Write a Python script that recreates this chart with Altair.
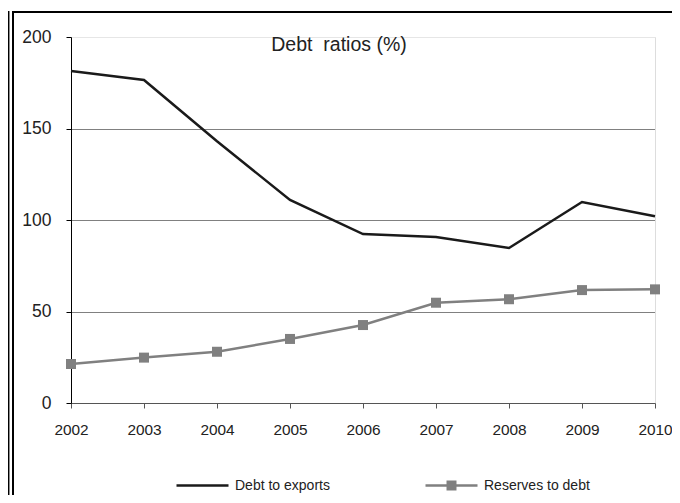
import altair as alt
import pandas as pd

years = [2002, 2003, 2004, 2005, 2006, 2007, 2008, 2009, 2010]
debt_to_exports = [181.4, 176.5, 143.0, 111.0, 92.3, 90.7, 84.7, 109.8, 102.0]
reserves_to_debt = [21.3, 24.8, 28.0, 35.0, 42.6, 54.8, 56.7, 61.7, 62.1]
y_ticks = [0, 50, 100, 150, 200]
chart_title = "Debt\u00a0 ratios (%)"
series_names = ["Debt to exports", "Reserves to debt"]

df_debt = pd.DataFrame({"year": years, "value": debt_to_exports, "series": series_names[0]})
df_res = pd.DataFrame({"year": years, "value": reserves_to_debt, "series": series_names[1]})

FONT = "Liberation Sans"
W, H = 584, 366

x_enc = alt.X(
    "year:Q",
    scale=alt.Scale(domain=[2002, 2010], nice=False, zero=False),
    axis=alt.Axis(
        values=years, format="d", title=None, grid=False,
        domainColor="#555555", tickColor="#555555", tickSize=5,
        labelFontSize=15.4, labelColor="#222222", labelFont=FONT,
        labelPadding=14, labelFlush=False,
    ),
)
y_enc = alt.Y(
    "value:Q",
    scale=alt.Scale(domain=[0, 200], nice=False),
    axis=alt.Axis(
        values=y_ticks, title=None, grid=True,
        gridColor={"expr": "datum.value == 200 ? '#eeeeee' : (datum.value == 0 ? 'transparent' : '#000000')"},
        gridDash=[1, 1], gridWidth=1,
        domainColor="#000000", tickColor="#000000", tickSize=5,
        labelFontSize=17.5, labelColor="#222222", labelFont=FONT,
        labelPadding=15,
    ),
)

debt_line = alt.Chart(df_debt).mark_line(strokeWidth=2.5).encode(
    x=x_enc, y=y_enc,
    color=alt.Color(
        "series:N",
        scale=alt.Scale(domain=[series_names[0]], range=["#1a1a1a"]),
        legend=alt.Legend(
            title=None, orient="none", legendX=104, legendY=421,
            symbolType="stroke", symbolSize=2704, symbolStrokeWidth=2.5,
            labelFontSize=14, labelFont=FONT, labelColor="#222222",
            labelOffset=5, padding=0,
        ),
    ),
)

square_path = ("M-1,0H1"
               "M-0.144,-0.144H0.144V0.144H-0.144Z"
               "M-0.048,-0.048H0.048V0.048H-0.048Z")

res_line = alt.Chart(df_res).mark_line(
    strokeWidth=2.5,
    point=alt.OverlayMarkDef(shape="square", size=100, filled=True, opacity=1),
).encode(
    x=x_enc, y=y_enc,
    color=alt.Color(
        "series:N",
        scale=alt.Scale(domain=[series_names[1]], range=["#808080"]),
        legend=alt.Legend(
            title=None, orient="none", legendX=353, legendY=421,
            symbolType=square_path, symbolSize=2704, symbolStrokeWidth=2.5,
            symbolStrokeColor="#808080", symbolFillColor="#808080",
            labelFontSize=14, labelFont=FONT, labelColor="#222222",
            labelOffset=5, padding=0,
        ),
    ),
)

title_text = alt.Chart(pd.DataFrame({"t": [chart_title]})).mark_text(
    font=FONT, fontSize=19.5, color="#222222", align="center", baseline="middle",
).encode(text="t:N", x=alt.value(268), y=alt.value(8))

frame_df = pd.DataFrame({"k": [0]})
frame_top = alt.Chart(frame_df).mark_rule(color="#000000", strokeWidth=2).encode(
    x=alt.value(-59), x2=alt.value(609), y=alt.value(-25))
frame_left1 = alt.Chart(frame_df).mark_rule(color="#000000", strokeWidth=1.5).encode(
    x=alt.value(-62.3), y=alt.value(-26), y2=alt.value(458))
frame_left2 = alt.Chart(frame_df).mark_rule(color="#000000", strokeWidth=2).encode(
    x=alt.value(-58), y=alt.value(-26), y2=alt.value(458))

chart = alt.layer(
    debt_line, res_line, title_text, frame_top, frame_left1, frame_left2
).resolve_scale(color="independent").properties(
    width=W, height=H,
    autosize=alt.AutoSizeParams(type="none"),
    padding={"left": 63, "top": 29, "right": 17, "bottom": 92},
).configure_view(stroke=None).configure(background="white")

chart.save("out.html", embed_options={"renderer": "svg", "actions": False})
